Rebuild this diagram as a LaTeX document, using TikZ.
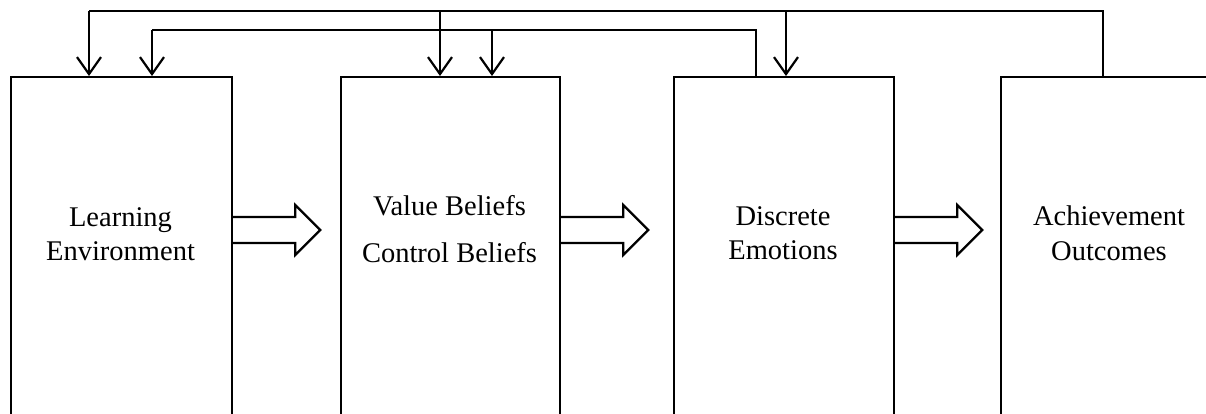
\documentclass[tikz,border=0pt]{standalone}
\usepackage{fontspec}
\setmainfont{Liberation Serif}
\usetikzlibrary{arrows.meta,calc}
\begin{document}
\begin{tikzpicture}[x=1pt,y=-1pt,
  box/.style={draw=black,line width=2.2pt,fill=white,rectangle,anchor=north west,inner sep=0pt},
  lbl/.style={anchor=base,inner sep=0pt,font=\fontsize{28.5}{34}\selectfont},
  fb/.style={draw=black,line width=2.2pt,line join=miter},
  fbarrow/.style={fb,-{Straight Barb[length=17pt,width=24pt,line width=2.2pt]}},
  blk/.style={draw=black,line width=2.2pt,fill=white,line join=miter}]
\clip (0,0) rectangle (1206,413);
\fill[white] (0,0) rectangle (1206,413);
% boxes
\node[box,minimum width=221pt,minimum height=360pt] (b1) at (10,76) {};
\node[box,minimum width=219pt,minimum height=360pt] (b2) at (340,76) {};
\node[box,minimum width=220pt,minimum height=360pt] (b3) at (673,76) {};
\node[box,minimum width=218pt,minimum height=360pt] (b4) at (1000,76) {};
% labels
\node[lbl] (l1a) at (120.5,226) {Learning};
\node[lbl] (l1b) at (120.5,260) {Environment};
\node[lbl] (l2a) at (449.5,215) {Value Beliefs};
\node[lbl] (l2b) at (449.5,262) {Control Beliefs};
\node[lbl] (l3a) at (783,225) {Discrete};
\node[lbl] (l3b) at (783,259) {Emotions};
\node[lbl] (l4a) at (1109,225) {Achievement};
\node[lbl] (l4b) at (1109,260) {Outcomes};
% block arrows
\foreach \n in {b1,b2,b3}{
  \path (\n.north east) ++(0,154) coordinate (\n-a);
  \draw[blk] (\n-a) ++(0,-13) -- ++(62,0) -- ++(0,-12) -- ++(25,25) -- ++(-25,25) -- ++(0,-12) -- ++(-62,0);
}
% feedback loops
\coordinate (k1) at (1103,11);
\coordinate (k2) at (756,30);
\draw[fb] ($(b4.north west)+(103,0)$) -- (k1) -- (89,11);
\draw[fbarrow] (89,11) -- ($(b1.north west)+(79,0)$);
\draw[fbarrow] (440,11) -- ($(b2.north west)+(100,0)$);
\draw[fbarrow] (786,11) -- ($(b3.north west)+(113,0)$);
\draw[fb] ($(b3.north west)+(83,0)$) -- (k2) -- (152,30);
\draw[fbarrow] (152,30) -- ($(b1.north west)+(142,0)$);
\draw[fbarrow] (492,30) -- ($(b2.north west)+(152,0)$);
\end{tikzpicture}
\end{document}
